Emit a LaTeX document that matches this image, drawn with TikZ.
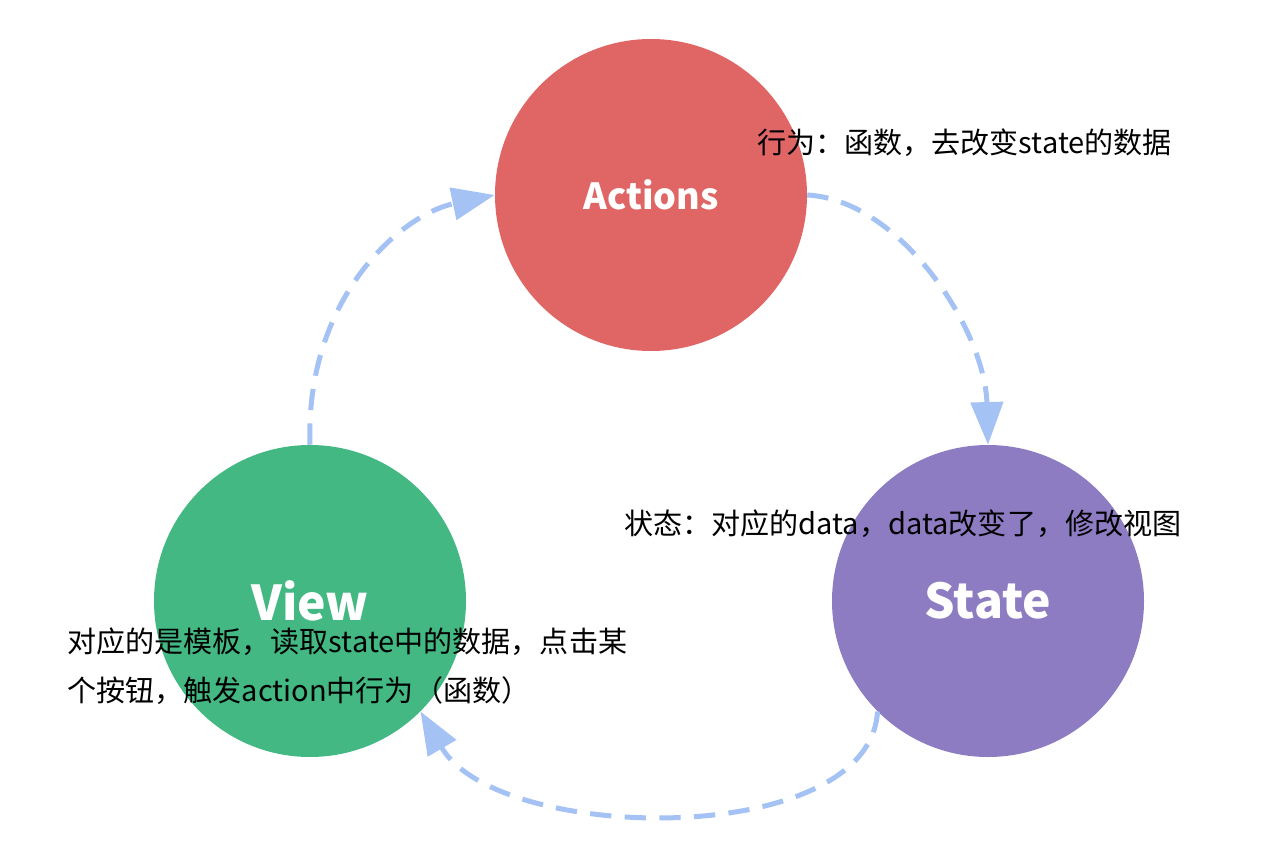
\documentclass[tikz,border=0pt]{standalone}
\usepackage{fontspec}
\setmainfont{Noto Sans CJK SC}
\usetikzlibrary{arrows.meta}
\definecolor{actred}{RGB}{224,102,102}
\definecolor{stpurple}{RGB}{142,124,195}
\definecolor{vwgreen}{RGB}{67,184,131}
\definecolor{flowblue}{RGB}{164,194,244}
\begin{document}
\begin{tikzpicture}[x=0.75pt,y=-0.75pt,
  blob/.style={circle,draw=none,inner sep=0pt,minimum size=234pt},
  blobtext/.style={text=white,font=\bfseries\fontsize{#1}{#1}\selectfont},
  flow/.style={draw=flowblue,line width=3.75pt,dash pattern=on 16pt off 10pt,
    -{Triangle[length=32pt,width=24pt]}},
  note/.style={anchor=west,inner sep=0pt,font=\fontsize{21.8pt}{36.75pt}\selectfont,align=left}]
\useasboundingbox (0,0) rectangle (1280,866);
% the three stages
\node[blob,fill=actred] (actions) at (651,195) {};
\node[blob,fill=stpurple] (state) at (988,601) {};
\node[blob,fill=vwgreen] (view) at (310,601) {};
\node[blobtext=27pt] (actionsl) at (actions.center) {Actions};
\node[blobtext=36pt] (statel) at (state.center) {State};
\node[blobtext=36pt] (viewl) at (view.center) {View};
% the cycle
\draw[flow] (view.north) .. controls +(-5,-145) and +(-95,20) .. (actions.west);
\draw[flow] (actions.east) .. controls +(93,5) and +(-3,-115) .. (state.north);
\draw[flow] (state.225) .. controls +(-8,138) and +(78,133) .. (view.-45);
% notes
\node[note] (actnote) at (757,143) {行为：函数，去改变state的数据};
\node[note] (stnote) at (624,524) {状态：对应的data，data改变了，修改视图};
\node[note,anchor=north west] (vwnote) at (67,628) {对应的是模板，读取state中的数据，点击某\\个按钮，触发action中行为（函数）};
\end{tikzpicture}
\end{document}
